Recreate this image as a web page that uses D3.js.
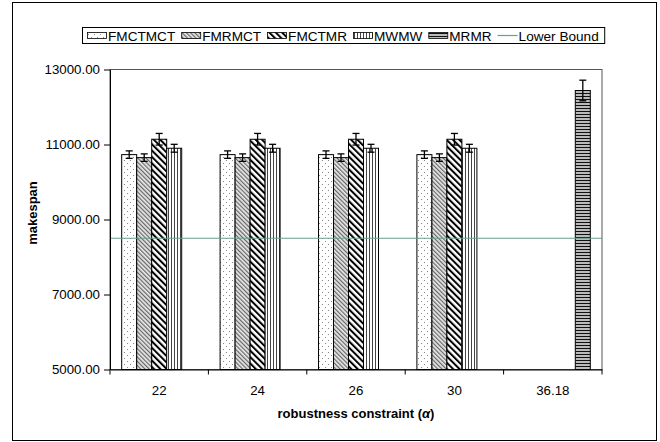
<!DOCTYPE html>
<html>
<head>
<meta charset="utf-8">
<script src="https://cdn.jsdelivr.net/npm/d3@7"></script>
<style>
  body { margin: 0; background: #fff; }
  text { font-family: "Liberation Sans", Arial, sans-serif; }
</style>
</head>
<body>
<div id="chart"></div>
<script>
const categories = ["22", "24", "26", "30", "36.18"];
const seriesNames = ["FMCTMCT", "FMRMCT", "FMCTMR", "MWMW", "MRMR"];
const fmctmct = [10730, 10730, 10730, 10730, null];
const fmrmct = [10650, 10650, 10650, 10650, null];
const fmctmr = [11140, 11140, 11140, 11140, null];
const mwmw = [10900, 10900, 10900, 10900, null];
const mrmr = [null, null, null, null, 12440];
const fmctmctErr = [100, 100, 100, 100, null];
const fmrmctErr = [100, 100, 100, 100, null];
const fmctmrErr = [155, 155, 155, 155, null];
const mwmwErr = [105, 105, 105, 105, null];
const mrmrErr = [null, null, null, null, 275];
const lowerBound = 8500;
const yTicks = [5000, 7000, 9000, 11000, 13000];

(function () {
  const width = 660, height = 442;
  const left = 110, right = 602, top = 69.5, bottom = 369.5;

  const values = [fmctmct, fmrmct, fmctmr, mwmw, mrmr];
  const errors = [fmctmctErr, fmrmctErr, fmctmrErr, mwmwErr, mrmrErr];
  const patIds = ["p-dots", "p-fine", "p-wide", "p-vert", "p-horiz"];

  const svg = d3.select("#chart")
    .append("svg")
    .attr("width", width)
    .attr("height", height);

  // fill patterns
  const defs = svg.append("defs");

  const pDots = defs.append("pattern").attr("id", "p-dots")
    .attr("patternUnits", "userSpaceOnUse").attr("width", 6).attr("height", 6);
  pDots.append("rect").attr("width", 6).attr("height", 6).attr("fill", "#fff");
  pDots.append("rect").attr("x", 1).attr("y", 1).attr("width", 1).attr("height", 1).attr("fill", "#888");
  pDots.append("rect").attr("x", 4).attr("y", 4).attr("width", 1).attr("height", 1).attr("fill", "#888");

  const pFine = defs.append("pattern").attr("id", "p-fine")
    .attr("patternUnits", "userSpaceOnUse").attr("width", 3).attr("height", 3)
    .attr("patternTransform", "rotate(-45)");
  pFine.append("rect").attr("width", 3).attr("height", 3).attr("fill", "#e8e8e8");
  pFine.append("rect").attr("width", 1.2).attr("height", 3).attr("fill", "#666");

  const pWide = defs.append("pattern").attr("id", "p-wide")
    .attr("patternUnits", "userSpaceOnUse").attr("width", 4.5).attr("height", 4.5)
    .attr("patternTransform", "rotate(-45)");
  pWide.append("rect").attr("width", 4.5).attr("height", 4.5).attr("fill", "#fff");
  pWide.append("rect").attr("width", 2).attr("height", 4.5).attr("fill", "#000");

  const pVert = defs.append("pattern").attr("id", "p-vert")
    .attr("patternUnits", "userSpaceOnUse").attr("width", 3).attr("height", 3);
  pVert.append("rect").attr("width", 3).attr("height", 3).attr("fill", "#fff");
  pVert.append("rect").attr("width", 1).attr("height", 3).attr("fill", "#444");

  const pHoriz = defs.append("pattern").attr("id", "p-horiz")
    .attr("patternUnits", "userSpaceOnUse").attr("width", 3).attr("height", 3);
  pHoriz.append("rect").attr("width", 3).attr("height", 3).attr("fill", "#bbb");
  pHoriz.append("rect").attr("width", 3).attr("height", 1).attr("fill", "#111");

  // outer frame
  svg.append("rect")
    .attr("x", 12.5).attr("y", 2.5)
    .attr("width", 644).attr("height", 438)
    .attr("fill", "none").attr("stroke", "#000").attr("stroke-width", 1);

  const x0 = d3.scaleBand().domain(categories).range([left, right]);
  const x1 = d3.scaleBand().domain(seriesNames)
    .range([0, x0.bandwidth()]).paddingInner(0).paddingOuter(0.78);
  const y = d3.scaleLinear().domain([5000, 13000]).range([bottom, top]);

  // plot area border
  svg.append("rect")
    .attr("x", left).attr("y", top)
    .attr("width", right - left).attr("height", bottom - top)
    .attr("fill", "none").attr("stroke", "#555").attr("stroke-width", 1);

  // bars
  const bars = [];
  seriesNames.forEach((s, i) => {
    categories.forEach((c, j) => {
      const v = values[i][j];
      if (v == null) return;
      bars.push({ s, c, v, e: errors[i][j], pat: patIds[i] });
    });
  });

  svg.selectAll("rect.bar")
    .data(bars)
    .join("rect")
      .attr("class", "bar")
      .attr("x", d => x0(d.c) + x1(d.s))
      .attr("y", d => y(d.v))
      .attr("width", x1.bandwidth())
      .attr("height", d => y(5000) - y(d.v))
      .attr("fill", d => `url(#${d.pat})`)
      .attr("stroke", "#000")
      .attr("stroke-width", 1);

  // error bars
  const eb = svg.selectAll("g.err")
    .data(bars.filter(d => d.e != null))
    .join("g")
      .attr("class", "err")
      .attr("transform", d => `translate(${x0(d.c) + x1(d.s) + x1.bandwidth() / 2},0)`)
      .attr("stroke", "#000")
      .attr("stroke-width", 1.3);
  eb.append("line").attr("y1", d => y(d.v + d.e)).attr("y2", d => y(d.v - d.e));
  eb.append("line").attr("x1", -3.5).attr("x2", 3.5)
    .attr("y1", d => y(d.v + d.e)).attr("y2", d => y(d.v + d.e));
  eb.append("line").attr("x1", -3.5).attr("x2", 3.5)
    .attr("y1", d => y(d.v - d.e)).attr("y2", d => y(d.v - d.e));

  // lower bound line
  svg.append("line")
    .attr("x1", left).attr("x2", right)
    .attr("y1", y(lowerBound)).attr("y2", y(lowerBound))
    .attr("stroke", "#6a9e8e").attr("stroke-width", 1.2);

  // y axis
  const yAxis = svg.append("g")
    .attr("transform", `translate(${left},0)`)
    .call(d3.axisLeft(y).tickValues(yTicks).tickFormat(d3.format(".2f"))
      .tickSize(6).tickPadding(4).tickSizeOuter(0));
  yAxis.select(".domain").attr("stroke", "#000");
  yAxis.selectAll("text").attr("font-size", 13.3).attr("fill", "#000")
    .style("font-family", '"Liberation Sans", Arial, sans-serif');

  // x axis
  const xAxis = svg.append("g")
    .attr("transform", `translate(0,${bottom})`)
    .call(d3.axisBottom(x0).tickSize(0).tickPadding(16).tickSizeOuter(0));
  xAxis.select(".domain").attr("stroke", "#000");
  xAxis.selectAll("text").attr("font-size", 13.3).attr("fill", "#000")
    .style("font-family", '"Liberation Sans", Arial, sans-serif');

  const bounds = categories.map(c => x0(c)).concat([right]);
  svg.selectAll("line.xtick")
    .data(bounds)
    .join("line")
      .attr("class", "xtick")
      .attr("x1", d => d).attr("x2", d => d)
      .attr("y1", bottom).attr("y2", bottom + 5)
      .attr("stroke", "#000");

  // axis titles
  svg.append("text")
    .attr("transform", "translate(37,213) rotate(-90)")
    .attr("text-anchor", "middle")
    .attr("font-size", 13).attr("font-weight", "bold")
    .text("makespan");

  const xt = svg.append("text")
    .attr("x", (left + right) / 2).attr("y", 418)
    .attr("text-anchor", "middle")
    .attr("font-size", 13).attr("font-weight", "bold");
  xt.append("tspan").text("robustness constraint (");
  xt.append("tspan").attr("font-style", "italic").text("α");
  xt.append("tspan").text(")");

  // legend
  const legend = svg.append("g");
  const legendBox = legend.append("rect")
    .attr("x", 82.5).attr("y", 27.5).attr("height", 16)
    .attr("fill", "#fff").attr("stroke", "#000").attr("stroke-width", 1);

  let lx = 87;
  const items = seriesNames.map((s, i) => ({ name: s, pat: patIds[i] }))
    .concat([{ name: "Lower Bound", line: true }]);
  items.forEach(it => {
    if (it.line) {
      legend.append("line")
        .attr("x1", lx).attr("x2", lx + 20)
        .attr("y1", 35.5).attr("y2", 35.5)
        .attr("stroke", "#6a9e8e").attr("stroke-width", 1.2);
    } else {
      legend.append("rect")
        .attr("x", lx + 0.5).attr("y", 32.5)
        .attr("width", 19).attr("height", 6)
        .attr("fill", `url(#${it.pat})`)
        .attr("stroke", "#000").attr("stroke-width", 0.8);
    }
    const t = legend.append("text")
      .attr("x", lx + 21).attr("y", 40.5)
      .attr("font-size", 13.6)
      .text(it.name);
    lx += 21 + t.node().getComputedTextLength() + 6;
  });
  legendBox.attr("width", lx - 82.5);
})();
</script>
</body>
</html>
